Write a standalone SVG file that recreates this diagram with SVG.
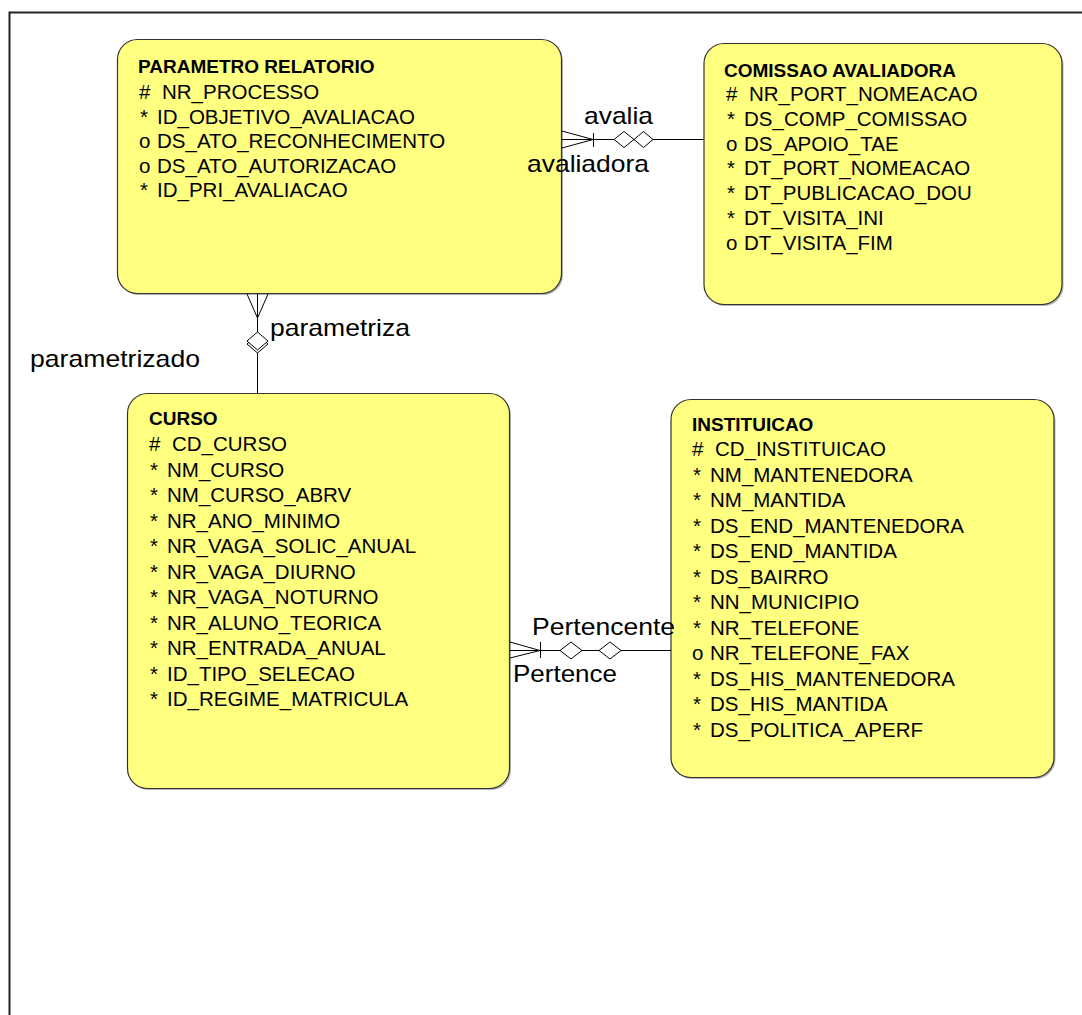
<svg xmlns="http://www.w3.org/2000/svg" width="1082" height="1015" viewBox="0 0 1082 1015">
  <style>
    .frame { fill: none; stroke: #222; stroke-width: 2; }
    .shadow { fill: #b4b4b4; }
    .box { fill: #ffff80; stroke: #333; stroke-width: 1.2; }
    .title { font-family: "Liberation Sans", Arial, sans-serif; font-size: 19px; font-weight: bold; fill: #000; }
    .attr { font-family: "Liberation Sans", Arial, sans-serif; font-size: 20.5px; fill: #000; }
    .rel { font-family: "Liberation Sans", Arial, sans-serif; font-size: 24px; fill: #000; }
    .line { fill: none; stroke: #000; stroke-width: 1; }
    .dia { fill: #fff; stroke: #000; stroke-width: 1; }
  </style>

  <rect width="1082" height="1015" fill="#fff"/>
  <!-- drawing frame (continues past right and bottom edges) -->
  <rect class="frame" x="9.5" y="12.5" width="1100" height="1100"/>

  <g id="parametro-relatorio">
    <rect class="shadow" x="119" y="41" width="444" height="254" rx="20"/>
    <rect class="box" x="117.5" y="39.5" width="444" height="254" rx="20"/>
    <text class="title" x="138" y="73">PARAMETRO RELATORIO</text>
    <text class="attr">
      <tspan x="139" y="99">#</tspan><tspan x="162">NR_PROCESSO</tspan>
      <tspan x="140" y="123.5">*</tspan><tspan x="157">ID_OBJETIVO_AVALIACAO</tspan>
      <tspan x="139" y="148">o</tspan><tspan x="157">DS_ATO_RECONHECIMENTO</tspan>
      <tspan x="139" y="172.5">o</tspan><tspan x="157">DS_ATO_AUTORIZACAO</tspan>
      <tspan x="140" y="197">*</tspan><tspan x="157">ID_PRI_AVALIACAO</tspan>
    </text>
  </g>

  <g id="comissao-avaliadora">
    <rect class="shadow" x="705.5" y="45" width="358" height="261" rx="20"/>
    <rect class="box" x="704" y="43.5" width="358" height="261" rx="20"/>
    <text class="title" x="724" y="77">COMISSAO AVALIADORA</text>
    <text class="attr">
      <tspan x="726" y="101">#</tspan><tspan x="749">NR_PORT_NOMEACAO</tspan>
      <tspan x="727" y="125.8">*</tspan><tspan x="744">DS_COMP_COMISSAO</tspan>
      <tspan x="726" y="150.6">o</tspan><tspan x="744">DS_APOIO_TAE</tspan>
      <tspan x="727" y="175.4">*</tspan><tspan x="744">DT_PORT_NOMEACAO</tspan>
      <tspan x="727" y="200.2">*</tspan><tspan x="744">DT_PUBLICACAO_DOU</tspan>
      <tspan x="727" y="225">*</tspan><tspan x="744">DT_VISITA_INI</tspan>
      <tspan x="726" y="249.8">o</tspan><tspan x="744">DT_VISITA_FIM</tspan>
    </text>
  </g>

  <g id="curso">
    <rect class="shadow" x="129" y="395" width="382" height="395" rx="20"/>
    <rect class="box" x="127.5" y="393.5" width="382" height="395" rx="20"/>
    <text class="title" x="149" y="425">CURSO</text>
    <text class="attr">
      <tspan x="149" y="451">#</tspan><tspan x="172">CD_CURSO</tspan>
      <tspan x="150" y="476.5">*</tspan><tspan x="167">NM_CURSO</tspan>
      <tspan x="150" y="502">*</tspan><tspan x="167">NM_CURSO_ABRV</tspan>
      <tspan x="150" y="527.5">*</tspan><tspan x="167">NR_ANO_MINIMO</tspan>
      <tspan x="150" y="553">*</tspan><tspan x="167">NR_VAGA_SOLIC_ANUAL</tspan>
      <tspan x="150" y="578.5">*</tspan><tspan x="167">NR_VAGA_DIURNO</tspan>
      <tspan x="150" y="604">*</tspan><tspan x="167">NR_VAGA_NOTURNO</tspan>
      <tspan x="150" y="629.5">*</tspan><tspan x="167">NR_ALUNO_TEORICA</tspan>
      <tspan x="150" y="655">*</tspan><tspan x="167">NR_ENTRADA_ANUAL</tspan>
      <tspan x="150" y="680.5">*</tspan><tspan x="167">ID_TIPO_SELECAO</tspan>
      <tspan x="150" y="706">*</tspan><tspan x="167">ID_REGIME_MATRICULA</tspan>
    </text>
  </g>

  <g id="instituicao">
    <rect class="shadow" x="672.5" y="401" width="383" height="378" rx="20"/>
    <rect class="box" x="671" y="399.5" width="383" height="378" rx="20"/>
    <text class="title" x="692" y="431">INSTITUICAO</text>
    <text class="attr">
      <tspan x="692" y="456">#</tspan><tspan x="715">CD_INSTITUICAO</tspan>
      <tspan x="693" y="481.5">*</tspan><tspan x="710">NM_MANTENEDORA</tspan>
      <tspan x="693" y="507">*</tspan><tspan x="710">NM_MANTIDA</tspan>
      <tspan x="693" y="532.5">*</tspan><tspan x="710">DS_END_MANTENEDORA</tspan>
      <tspan x="693" y="558">*</tspan><tspan x="710">DS_END_MANTIDA</tspan>
      <tspan x="693" y="583.5">*</tspan><tspan x="710">DS_BAIRRO</tspan>
      <tspan x="693" y="609">*</tspan><tspan x="710">NN_MUNICIPIO</tspan>
      <tspan x="693" y="634.5">*</tspan><tspan x="710">NR_TELEFONE</tspan>
      <tspan x="692" y="660">o</tspan><tspan x="710">NR_TELEFONE_FAX</tspan>
      <tspan x="693" y="685.5">*</tspan><tspan x="710">DS_HIS_MANTENEDORA</tspan>
      <tspan x="693" y="711">*</tspan><tspan x="710">DS_HIS_MANTIDA</tspan>
      <tspan x="693" y="736.5">*</tspan><tspan x="710">DS_POLITICA_APERF</tspan>
    </text>
  </g>

  <g id="connectors">
    <!-- PARAMETRO RELATORIO (many) to COMISSAO AVALIADORA -->
    <g id="rel-avalia">
      <path class="line" d="M562,139.5 H704"/>
      <path class="line" d="M562,131 L593,139.5 L562,148"/>
      <path class="line" d="M593.5,133 V147"/>
      <polygon class="dia" points="614,139.5 624,131.5 634,139.5 624,147.5"/>
      <polygon class="dia" points="634,139.5 643.5,131.5 653,139.5 643.5,147.5"/>
      <text class="rel" x="584" y="124" textLength="69" lengthAdjust="spacingAndGlyphs">avalia</text>
      <text class="rel" x="527" y="172" textLength="122" lengthAdjust="spacingAndGlyphs">avaliadora</text>
    </g>
    <!-- PARAMETRO RELATORIO (many) to CURSO -->
    <g id="rel-parametriza">
      <path class="line" d="M257.5,294 V393"/>
      <path class="line" d="M247,294 L257.5,318 L268,294"/>
      <polygon class="dia" points="257.5,335 268,344 257.5,353 247,344"/>
      <polygon class="dia" points="257.5,332 268,341 257.5,350 247,341"/>
      <text class="rel" x="270" y="336" textLength="140" lengthAdjust="spacingAndGlyphs">parametriza</text>
      <text class="rel" x="30" y="367" textLength="170" lengthAdjust="spacingAndGlyphs">parametrizado</text>
    </g>
    <!-- CURSO (many) to INSTITUICAO -->
    <g id="rel-pertence">
      <path class="line" d="M510,650.5 H671"/>
      <path class="line" d="M510,642 L540,650.5 L510,658"/>
      <path class="line" d="M540.5,642 V658"/>
      <polygon class="dia" points="560,650.5 571,642 582,650.5 571,659"/>
      <polygon class="dia" points="599,650.5 610,642 621,650.5 610,659"/>
      <text class="rel" x="532" y="635" textLength="143" lengthAdjust="spacingAndGlyphs">Pertencente</text>
      <text class="rel" x="513" y="682" textLength="104" lengthAdjust="spacingAndGlyphs">Pertence</text>
    </g>
  </g>
</svg>
